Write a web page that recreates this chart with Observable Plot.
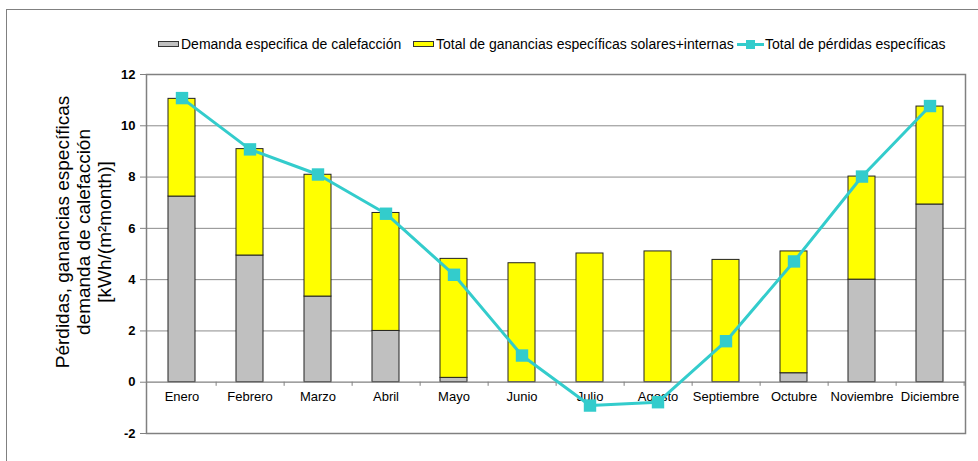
<!DOCTYPE html>
<html>
<head>
<meta charset="utf-8">
<script src="https://cdn.jsdelivr.net/npm/d3@7"></script>
<script src="https://cdn.jsdelivr.net/npm/@observablehq/plot@0.6"></script>
<style>
  html, body { margin: 0; padding: 0; background: #fff; }
  body { width: 978px; height: 461px; overflow: hidden; position: relative; font-family: "Liberation Sans", Arial, sans-serif; }
  #frame { position: absolute; left: 6px; top: 9px; width: 1000px; height: 500px; border-left: 1px solid #808080; border-top: 1px solid #808080; pointer-events: none; }
  #legend { position: relative; height: 60px; width: 978px; font-size: 14px; color: #000; }
  .item { position: absolute; top: 36px; display: flex; align-items: center; white-space: nowrap; height: 16px; }
  .sw { width: 21px; height: 6px; border: 1px solid #333; margin-right: 2px; box-sizing: border-box; }
  .ln { position: relative; width: 27px; height: 12px; margin-right: 1px; }
  .ln .l { position: absolute; left: 0; right: 0; top: 5px; height: 3px; background: #33CCCC; }
  .ln .m { position: absolute; left: 9px; top: 2px; width: 9px; height: 9px; background: #33CCCC; }
  #chart { position: relative; }
</style>
</head>
<body>
<div id="frame"></div>
<div id="legend">
  <div class="item" style="left:158px"><div class="sw" style="background:#C0C0C0"></div>Demanda especifica de calefacción</div>
  <div class="item" style="left:413px"><div class="sw" style="background:#FFFF00"></div>Total de ganancias específicas solares+internas</div>
  <div class="item" style="left:737px"><div class="ln"><div class="l"></div><div class="m"></div></div>Total de pérdidas específicas</div>
</div>
<div id="chart"></div>
<script>
const meses = ["Enero","Febrero","Marzo","Abril","Mayo","Junio","Julio","Agosto","Septiembre","Octubre","Noviembre","Diciembre"];
const demanda   = [7.24, 4.94, 3.34, 2.00, 0.17, 0.00, 0.00, 0.00, 0.00, 0.35, 4.00, 6.93];
const ganancias = [3.81, 4.15, 4.75, 4.60, 4.64, 4.64, 5.02, 5.10, 4.77, 4.75, 4.02, 3.82];
const perdidas  = [11.08, 9.08, 8.10, 6.57, 4.19, 1.04, -0.91, -0.78, 1.60, 4.71, 8.02, 10.77];
const yTicks = [-2, 0, 2, 4, 6, 8, 10, 12];
const gridValues = [2, 4, 6, 8, 10];
const yLabel = "Pérdidas, ganancias específicas\ndemanda de calefacción\n[kWh/(m²month)]";

const series = ["Demanda", "Ganancias"];
const barData = [];
meses.forEach((m, i) => {
  barData.push({mes: m, serie: "Demanda", valor: demanda[i]});
  barData.push({mes: m, serie: "Ganancias", valor: ganancias[i]});
});
const lineData = meses.map((m, i) => ({mes: m, valor: perdidas[i]}));

const width = 978, height = 401;
const mL = 146, mR = 13;
const step = (width - mL - mR) / meses.length;

const chart = Plot.plot({
  width, height,
  marginLeft: mL, marginRight: mR, marginTop: 14, marginBottom: 28,
  style: {fontFamily: "'Liberation Sans', Arial, sans-serif", fontSize: "12px", background: "transparent", color: "#000"},
  x: {domain: meses, paddingInner: 0.6, paddingOuter: 0.3, axis: null},
  y: {domain: [-2, 12], ticks: yTicks, axis: null},
  color: {domain: series, range: ["#C0C0C0", "#FFFF00"]},
  marks: [
    Plot.ruleY(gridValues, {stroke: "#8c8c8c", strokeWidth: 1}),
    Plot.barY(barData, Plot.stackY({x: "mes", y: "valor", fill: "serie", stroke: "#222", strokeWidth: 1, order: series})),
    Plot.ruleY([0], {stroke: "#808080", strokeWidth: 1.2}),
    Plot.ruleX(meses, {x: d => d, y1: 0, y2: -0.16, dx: step / 2, stroke: "#808080"}),
    Plot.text(meses, {x: d => d, y: 0, dy: 15, text: d => d, fontSize: 13, fill: "#000"}),
    Plot.axisY({ticks: yTicks, tickSize: 6, tickPadding: 5, stroke: "#808080", fontSize: 13, fontWeight: "bold", label: null, tickFormat: d => String(d)}),
    Plot.frame({stroke: "#808080", strokeWidth: 1.5}),
    Plot.line(lineData, {x: "mes", y: "valor", stroke: "#33CCCC", strokeWidth: 3}),
    Plot.dot(lineData, {x: "mes", y: "valor", symbol: "square", r: 7, fill: "#33CCCC", stroke: "none"}),
    Plot.text([yLabel], {frameAnchor: "left", text: d => d, rotate: -90, dx: -63.5, dy: -22, fontSize: 19, lineHeight: 1.1, textAnchor: "middle", lineAnchor: "middle", fill: "#000"})
  ]
});
document.getElementById("chart").appendChild(chart);
</script>
</body>
</html>
